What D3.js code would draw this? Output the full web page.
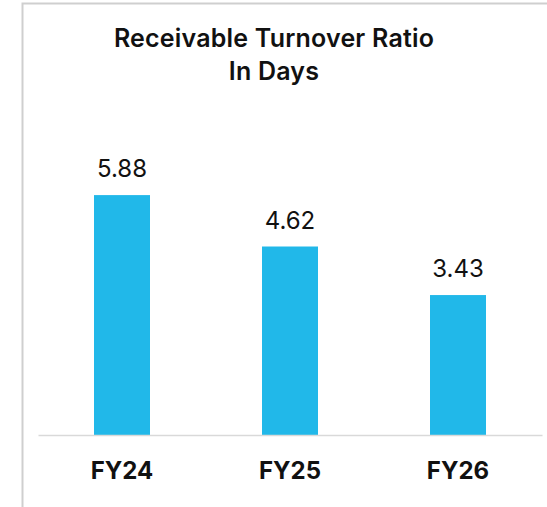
<!DOCTYPE html>
<html>
<head>
<script src="https://cdn.jsdelivr.net/npm/d3@7"></script>
<style>
  body { margin: 0; background: #fff; }
  text { font-family: Inter, "Open Sans", sans-serif; }
</style>
</head>
<body>
<script>
  var w = 547, h = 507;
  var titleLines = ["Receivable Turnover Ratio", "In Days"];
  var categories = ["FY24", "FY25", "FY26"];
  var values = [5.88, 4.62, 3.43];

  var svg = d3.select("body").append("svg")
    .attr("width", w)
    .attr("height", h);

  // panel border (top + left only visible)
  svg.append("path")
    .attr("d", "M22.5,507 V3.5 H547")
    .attr("fill", "none")
    .attr("stroke", "#cfcfcf")
    .attr("stroke-width", 2);

  var xScale = d3.scaleBand()
    .domain(categories)
    .range([38, 542])
    .paddingInner(2 / 3)
    .paddingOuter(1 / 3);

  var yScale = d3.scaleLinear()
    .domain([0, 7])
    .range([435, 149.4]);

  svg.selectAll(".title")
    .data(titleLines)
    .enter().append("text")
    .attr("x", 274)
    .attr("y", function (d, i) { return 47 + i * 33; })
    .attr("text-anchor", "middle")
    .attr("font-size", 25)
    .attr("font-weight", 600)
    .attr("letter-spacing", 0.2)
    .attr("fill", "#111")
    .text(function (d) { return d; });

  svg.selectAll(".bar")
    .data(values)
    .enter().append("rect")
    .attr("x", function (d, i) { return xScale(categories[i]); })
    .attr("y", function (d) { return yScale(d); })
    .attr("width", xScale.bandwidth())
    .attr("height", function (d) { return yScale(0) - yScale(d); })
    .attr("fill", "#21b8e9");

  svg.selectAll(".val")
    .data(values)
    .enter().append("text")
    .attr("x", function (d, i) { return xScale(categories[i]) + xScale.bandwidth() / 2; })
    .attr("y", function (d) { return yScale(d) - 18; })
    .attr("text-anchor", "middle")
    .attr("font-size", 24)
    .attr("fill", "#111")
    .text(function (d) { return d.toFixed(2); });

  var xAxis = d3.axisBottom(xScale).tickSize(0).tickPadding(27);
  svg.append("g")
    .attr("transform", "translate(0," + yScale(0) + ")")
    .call(xAxis)
    .call(function (g) {
      g.select(".domain").attr("stroke", "#d9d9d9").attr("stroke-width", 1.5);
      g.selectAll(".tick text")
        .attr("font-size", 24)
        .attr("font-weight", 700)
        .attr("fill", "#111")
        .attr("font-family", "Inter, sans-serif");
    });
</script>
</body>
</html>
